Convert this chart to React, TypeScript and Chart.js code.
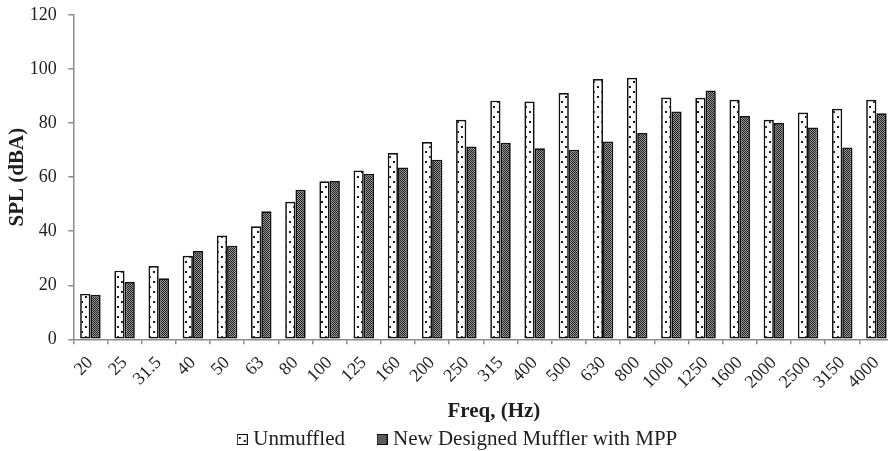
import React, { useEffect, useRef } from 'react';
import { Chart, registerables } from 'chart.js';

Chart.register(...registerables);

const categories = ['20', '25', '31.5', '40', '50', '63', '80', '100', '125', '160', '200', '250', '315', '400', '500', '630', '800', '1000', '1250', '1600', '2000', '2500', '3150', '4000'];
const unmuffled = [16.8, 25.4, 27.1, 30.9, 38.4, 41.8, 50.9, 58.5, 62.5, 68.9, 73.0, 81.2, 88.3, 88.0, 91.1, 96.3, 96.8, 89.5, 89.4, 88.6, 81.2, 83.9, 85.3, 88.6];
const muffler = [16.5, 21.2, 22.6, 32.7, 34.6, 47.4, 55.3, 58.6, 61.2, 63.6, 66.4, 71.3, 72.7, 70.7, 70.1, 73.2, 76.3, 84.3, 92.1, 82.6, 80.0, 78.4, 71.0, 83.6];
const seriesLabels = ['Unmuffled', 'New Designed Muffler with MPP'];
const yMin = 0;
const yMax = 120;
const yStep = 20;
const xTitle = 'Freq, (Hz)';
const yTitle = 'SPL (dBA)';

const SERIF = "'Liberation Serif', 'Times New Roman', serif";
const AXIS = '#8c8c8c';
const TEXT = '#1e1e1e';

function tile(w: number, h: number, draw: (g: CanvasRenderingContext2D) => void) {
  const c = document.createElement('canvas');
  c.width = w;
  c.height = h;
  draw(c.getContext('2d') as CanvasRenderingContext2D);
  return c;
}

const dotTile = () =>
  tile(8, 10, (g) => {
    g.fillStyle = '#ffffff';
    g.fillRect(0, 0, 8, 10);
    g.fillStyle = '#1a1a1a';
    g.fillRect(1, 1, 2, 2);
    g.fillRect(5, 6, 2, 2);
  });

const checkTile = () =>
  tile(2, 2, (g) => {
    g.fillStyle = '#9c9c9c';
    g.fillRect(0, 0, 2, 2);
    g.fillStyle = '#1c1c1c';
    g.fillRect(0, 0, 1, 1);
    g.fillRect(1, 1, 1, 1);
  });

const legendDot = () =>
  tile(11, 11, (g) => {
    g.fillStyle = '#ffffff';
    g.fillRect(0, 0, 11, 11);
    g.fillStyle = '#1a1a1a';
    g.fillRect(2, 3, 2, 2);
    g.fillRect(7, 6, 2, 2);
    g.strokeStyle = '#111';
    g.lineWidth = 1;
    g.strokeRect(0.5, 0.5, 10, 10);
  });

const legendCheck = () =>
  tile(11, 11, (g) => {
    const p = g.createPattern(checkTile(), 'repeat') as CanvasPattern;
    g.fillStyle = p;
    g.fillRect(0, 0, 11, 11);
    g.strokeStyle = '#111';
    g.lineWidth = 1;
    g.strokeRect(0.5, 0.5, 10, 10);
  });

export default function App() {
  const ref = useRef<HTMLCanvasElement | null>(null);

  useEffect(() => {
    const canvas = ref.current;
    if (!canvas) return;
    const ctx = canvas.getContext('2d') as CanvasRenderingContext2D;
    const dotPattern = ctx.createPattern(dotTile(), 'repeat') as CanvasPattern;
    const checkPattern = ctx.createPattern(checkTile(), 'repeat') as CanvasPattern;
    const legendImgs = [legendDot(), legendCheck()];
    const spacer = '      ';

    const chart = new Chart(ctx, {
      type: 'bar',
      data: {
        labels: categories,
        datasets: [
          {
            label: seriesLabels[0],
            data: unmuffled,
            backgroundColor: dotPattern,
            borderColor: '#111',
            borderWidth: 1.7,
            borderSkipped: false,
            categoryPercentage: 0.6,
            barPercentage: 1.0,
          },
          {
            label: seriesLabels[1],
            data: muffler,
            backgroundColor: checkPattern,
            borderColor: '#111',
            borderWidth: 1.7,
            borderSkipped: false,
            categoryPercentage: 0.6,
            barPercentage: 1.0,
          },
        ],
      },
      options: {
        responsive: false,
        animation: false,
        layout: { padding: { top: 15, left: 0, right: 0, bottom: 0 } },
        plugins: {
          tooltip: { enabled: false },
          legend: {
            position: 'bottom',
            labels: {
              usePointStyle: true,
              boxWidth: 1,
              padding: 5,
              color: TEXT,
              font: { family: SERIF, size: 21 },
              generateLabels: (c: any) =>
                c.data.datasets.map((ds: any, i: number) => ({
                  text: i === 0 ? ds.label + spacer : ds.label,
                  fillStyle: '#fff',
                  strokeStyle: '#111',
                  lineWidth: 0,
                  pointStyle: legendImgs[i],
                  hidden: false,
                  datasetIndex: i,
                  fontColor: TEXT,
                })),
            },
          },
        },
        scales: {
          x: {
            grid: {
              display: true,
              drawOnChartArea: false,
              drawTicks: true,
              tickLength: 5,
              color: AXIS,
              lineWidth: 1.5,
              offset: true,
            },
            border: { display: true, color: AXIS, width: 1.5 },
            ticks: {
              minRotation: 45,
              maxRotation: 45,
              autoSkip: false,
              padding: 8,
              color: TEXT,
              font: { family: SERIF, size: 18 },
            },
            title: {
              display: true,
              text: '    ' + xTitle,
              color: TEXT,
              font: { family: SERIF, size: 21, weight: 'bold', lineHeight: 1 },
              padding: { top: 0, bottom: 2 },
            },
            afterFit: (s: any) => {
              s.height = 84.7;
            },
          },
          y: {
            min: yMin,
            max: yMax,
            ticks: {
              stepSize: yStep,
              padding: 11.6,
              color: TEXT,
              font: { family: SERIF, size: 18 },
            },
            grid: {
              display: true,
              drawOnChartArea: false,
              drawTicks: true,
              tickLength: 5,
              color: AXIS,
              lineWidth: 1.5,
            },
            border: { display: true, color: AXIS, width: 1.5 },
            title: {
              display: true,
              text: yTitle,
              color: TEXT,
              font: { family: SERIF, size: 21, weight: 'bold', lineHeight: 1 },
              padding: { top: 7.5, bottom: 0 },
            },
            afterFit: (s: any) => {
              s.width = 73.3;
              s.paddingTop = 0;
              s.paddingBottom = 0;
            },
          },
          y2: {
            type: 'linear',
            position: 'right',
            display: true,
            grid: { display: false },
            border: { display: false },
            ticks: { display: false },
            afterFit: (s: any) => {
              s.width = 25.5;
              s.paddingTop = 0;
              s.paddingBottom = 0;
            },
          },
        },
      },
    } as any);

    return () => chart.destroy();
  }, []);

  return (
    <div
      style={{
        position: 'fixed',
        left: 0,
        top: 0,
        width: 888,
        height: 451,
        overflow: 'hidden',
        background: '#ffffff',
      }}
    >
      <canvas ref={ref} width={919} height={460} style={{ display: 'block', width: 919, height: 460 }} />
    </div>
  );
}
